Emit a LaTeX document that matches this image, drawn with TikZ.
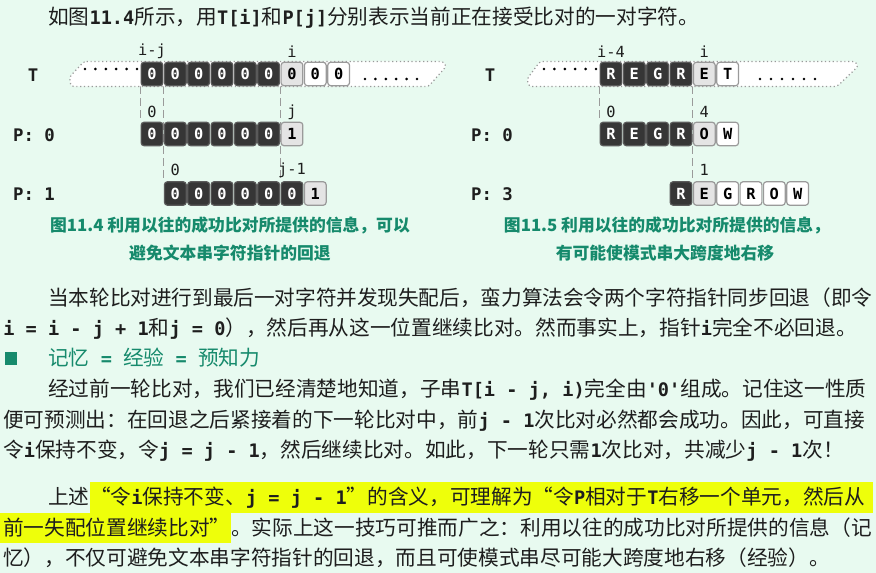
\documentclass[tikz,border=0pt]{standalone}
\usepackage{fontspec}
\setmainfont{Noto Sans CJK SC}
\newfontfamily\cellfont{DejaVu Sans Mono}
\newfontfamily\codefont[Scale=0.9]{DejaVu Sans Mono}
\usetikzlibrary{backgrounds}
\XeTeXlinebreaklocale "zh"
\XeTeXlinebreakskip=0pt plus 2pt minus 0.5pt
\definecolor{bgc}{HTML}{E8FAF0}
\definecolor{capgreen}{HTML}{168A6C}
\definecolor{hlc}{HTML}{EEFF0A}
\definecolor{ink}{HTML}{1E1E1E}
\definecolor{celldark}{HTML}{363636}
\definecolor{darkbord}{HTML}{5A5A5A}
\definecolor{celllight}{HTML}{E4E4E4}
\definecolor{lightbord}{HTML}{9A9A9A}
\newcommand{\cd}[1]{{\codefont\bfseries #1}}
\tikzset{
  cellbase/.style={rectangle, rounded corners=2.2pt, minimum width=16.3pt, minimum height=17.6pt,
    inner sep=0pt, line width=0.9pt, font=\cellfont\bfseries\fontsize{11.5}{12}\selectfont},
  dk/.style={cellbase, fill=celldark, draw=darkbord, text=white},
  lt/.style={cellbase, fill=celllight, draw=lightbord, text=black},
  wt/.style={cellbase, fill=white, draw=lightbord, text=black},
  idx/.style={font=\cellfont\fontsize{11.5}{12}\selectfont, inner sep=0pt, text=ink},
  rowlab/.style={font=\cellfont\bfseries\fontsize{13}{14}\selectfont, inner sep=0pt, text=ink},
  dashln/.style={draw=lightbord, dash pattern=on 6pt off 3pt, line width=0.75pt},
  band/.style={fill=white, draw=lightbord, dotted, line width=0.9pt, rounded corners=2pt},
  captext/.style={font=\bfseries\fontsize{12.6}{14}\selectfont, text=capgreen, inner sep=0pt},
  blnat/.style={anchor=base west, inner sep=0pt, font=\fontsize{15.5}{18}\selectfont, text=ink},
  bl/.style={blnat, align=justify},
}
\begin{document}
\begin{tikzpicture}[x=0.75pt,y=-0.75pt]
\begin{pgfonlayer}{background}
\fill[bgc] (0,0) rectangle (876,573);
\end{pgfonlayer}
\useasboundingbox (0,0) rectangle (876,573);

% ---------- top line ----------
\node[blnat] (l1) at (48,25) {如图\cd{11.4}所示，用\cd{T[i]}和\cd{P[j]}分别表示当前正在接受比对的一对字符。};

% ---------- left figure ----------
\draw[band] (84,61.5) -- (443,61.5) -- (446.5,66) -- (428.5,86.5) -- (71,86.5) -- (69.5,77) -- cycle;
\foreach \d in {0,...,5} \fill[black] ({85+10.4*\d},69) circle (1.1pt);
\foreach \d in {0,...,5} \fill[black] ({365+10.4*\d},79) circle (1.1pt);

\node[rowlab] (LT) at (33,75) {T};
\node[rowlab] (LP0) at (34,135) {P: 0};
\node[rowlab] (LP1) at (34,194) {P: 1};

\foreach \k in {0,...,5} \node[dk] (tL\k) at ({152+23.33*\k},74) {0};
\node[lt] (tL6) at ({152+23.33*6},74) {0};
\node[wt] (tL7) at ({152+23.33*7},74) {0};
\node[wt] (tL8) at ({152+23.33*8},74) {0};

\foreach \k in {0,...,5} \node[dk] (pL\k) at ({152+23.33*\k},134) {0};
\node[lt] (pL6) at ({152+23.33*6},134) {1};

\foreach \k in {0,...,5} \node[dk] (qL\k) at ({152+23.33*(\k+1)},193.5) {0};
\node[lt] (qL6) at ({152+23.33*7},193.5) {1};

\node[idx] (LiJ) at (152,51.5) {i-j};
\node[idx] (Li) at ({152+23.33*6},51.5) {i};
\node[idx] (Lp0) at (152,112) {0};
\node[idx] (Lpj) at ({152+23.33*6},112) {j};
\node[idx] (Lq0) at ({152+23.33},170) {0};
\node[idx] (Lqj) at ({152+23.33*6},170) {j-1};

\begin{pgfonlayer}{background}
\draw[dashln] (tL0.south west) -- (pL0.north west);
\draw[dashln] (tL1.south west) -- (qL0.north west);
\draw[dashln] (tL6.south west) -- (qL5.north west);
\end{pgfonlayer}

\node[captext] (cap1a) at (230,225) {图11.4 利用以往的成功比对所提供的信息，可以};
\node[captext] (cap1b) at (230,253) {避免文本串字符指针的回退};

% ---------- right figure ----------
\draw[band] (540,61.5) -- (855,61.5) -- (858.5,66) -- (837,86.5) -- (529,86.5) -- (527,79) -- cycle;
\foreach \d in {0,...,5} \fill[black] ({544+10.4*\d},69) circle (1.1pt);
\foreach \d in {0,...,5} \fill[black] ({760+11*\d},79) circle (1.1pt);

\node[rowlab] (RT) at (490,75) {T};
\node[rowlab] (RP0) at (492,135) {P: 0};
\node[rowlab] (RP3) at (492,194) {P: 3};

\foreach \k/\t in {0/R,1/E,2/G,3/R} \node[dk] (tR\k) at ({611+23.33*\k},74) {\t};
\node[lt] (tR4) at ({611+23.33*4},74) {E};
\node[wt] (tR5) at ({611+23.33*5},74) {T};

\foreach \k/\t in {0/R,1/E,2/G,3/R} \node[dk] (pR\k) at ({611+23.33*\k},134) {\t};
\node[lt] (pR4) at ({611+23.33*4},134) {O};
\node[wt] (pR5) at ({611+23.33*5},134) {W};

\node[dk] (qR0) at ({611+23.33*3},193.5) {R};
\node[lt] (qR1) at ({611+23.33*4},193.5) {E};
\foreach \k/\t in {2/G,3/R,4/O,5/W} \node[wt] (qR\k) at ({611+23.33*(\k+3)},193.5) {\t};

\node[idx] (Ri4) at (611,51.5) {i-4};
\node[idx] (Ri) at ({611+23.33*4},51.5) {i};
\node[idx] (Rp0) at (611,112) {0};
\node[idx] (Rp4) at ({611+23.33*4},112) {4};
\node[idx] (Rq1) at ({611+23.33*4},170) {1};

\begin{pgfonlayer}{background}
\draw[dashln] (tR0.south west) -- (pR0.north west);
\draw[dashln] (tR4.south west) -- (qR1.north west);
\end{pgfonlayer}

\node[captext] (cap2a) at (667,225) {图11.5 利用以往的成功比对所提供的信息，};
\node[captext] (cap2b) at (665,253) {有可能使模式串大跨度地右移};

% ---------- body text ----------
\node[bl, text width=618pt] (l2) at (48,306) {\parfillskip=0pt\relax 当本轮比对进行到最后一对字符并发现失配后，蛮力算法会令两个字符指针同步回退（即令};
\node[blnat] (l3) at (3,336) {\cd{i = i - j + 1}和\cd{j = 0}），然后再从这一位置继续比对。然而事实上，指针\cd{i}完全不必回退。};

\fill[capgreen] (5,352) rectangle (17,365);
\node[blnat, text=capgreen] (head) at (48,366) {记忆\cd{~=~}经验\cd{~=~}预知力};

\node[bl, text width=618pt] (l5) at (48,397) {\parfillskip=0pt\relax 经过前一轮比对，我们已经清楚地知道，子串\cd{T[i - j, i)}完全由\cd{'0'}组成。记住这一性质};
\node[bl, text width=651.75pt] (l6) at (3,428) {\parfillskip=0pt\relax 便可预测出：在回退之后紧接着的下一轮比对中，前\cd{j - 1}次比对必然都会成功。因此，可直接};
\node[blnat] (l7) at (3,458) {令\cd{i}保持不变，令\cd{j = j - 1}，然后继续比对。如此，下一轮只需\cd{1}次比对，共减少\cd{j - 1}次！};

\node[blnat] (l8a) at (48,505) {上述};
\node[bl, text width=587pt] (l8b) at (l8a.base east) {\parfillskip=0pt\relax “令\cd{i}保持不变、\cd{j = j - 1}”的含义，可理解为“令\cd{P}相对于\cd{T}右移一个单元，然后从};
\node[blnat] (l9a) at (3,536) {前一失配位置继续比对”};
\node[bl, text width=481.5pt] (l9b) at (l9a.base east) {\parfillskip=0pt\relax 。实际上这一技巧可推而广之：利用以往的成功比对所提供的信息（记};
\node[blnat] (l10) at (3,566) {忆），不仅可避免文本串字符指针的回退，而且可使模式串尽可能大跨度地右移（经验）。};

\begin{pgfonlayer}{background}
\fill[hlc] (l8b.west |- 0,482) rectangle (l8b.east |- 0,513);
\fill[hlc] (0,513) rectangle (l9a.east |- 0,543);
\end{pgfonlayer}
\end{tikzpicture}
\end{document}
